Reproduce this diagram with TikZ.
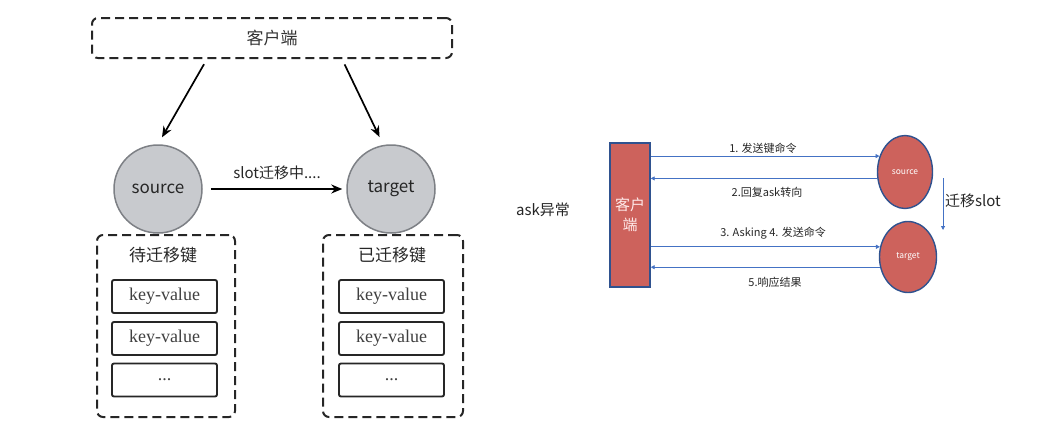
\documentclass[tikz,border=0pt]{standalone}
\usepackage{fontspec}
\setmainfont{Noto Sans CJK SC}
\newfontfamily\kvfont{Liberation Serif}
\usetikzlibrary{arrows.meta,shapes.geometric}
\definecolor{nodegray}{RGB}{200,202,206}
\definecolor{rimgray}{RGB}{125,128,133}
\definecolor{boxred}{RGB}{205,98,92}
\definecolor{rimblue}{RGB}{47,82,143}
\definecolor{flowblue}{RGB}{68,114,196}
\begin{document}
\begin{tikzpicture}[x=1pt,y=-1pt,
    sketch/.style={draw=black!85,line width=2pt,dash pattern=on 9pt off 5pt,rounded corners=6pt},
    kvbox/.style={draw=black!85,line width=1.9pt,rounded corners=2pt,minimum width=105pt,minimum height=33pt,font=\kvfont\fontsize{18}{18}\selectfont,text=black!75},
    server/.style={circle,draw=rimgray,line width=1.5pt,fill=nodegray,minimum size=88pt,font=\fontsize{17}{17}\selectfont,text=black!85},
    flow/.style={flowblue,line width=0.9pt,-{Triangle[length=4pt,width=4pt]}},
    redis/.style={ellipse,draw=rimblue,line width=1.4pt,fill=boxred,text=white,font=\fontsize{8.5}{8.5}\selectfont},
    lbl/.style={font=\fontsize{11}{11}\selectfont,text=black!85}]

  \useasboundingbox (0,0) rectangle (1048,440);

  % left: slot being migrated
  \node[sketch,minimum width=360pt,minimum height=40pt,font=\fontsize{17}{17}\selectfont,text=black!80] (cl) at (272,38) {客户端};

  \node[server] (src) at (158,189) {source};
  \node[server] (tgt) at (391,189) {target};

  \draw[line width=1.7pt,-{Stealth[length=11pt,width=9pt]},shorten <=6pt,shorten >=8pt] ([xshift=-65pt]cl.south) -- (src.north);
  \draw[line width=1.7pt,-{Stealth[length=11pt,width=9pt]},shorten <=6pt,shorten >=8pt] ([xshift=70pt]cl.south) -- ([xshift=-8pt]tgt.north);
  \draw[line width=1.7pt,-{Stealth[length=11pt,width=9pt]},shorten <=8pt,shorten >=4pt] (src.east) -- (tgt.west);
  \node[font=\fontsize{15}{15}\selectfont,text=black!85] (mig) at (277,173) {slot迁移中....};

  \node[sketch,minimum width=138pt,minimum height=182pt] (pend) at (166,326) {};
  \node[font=\fontsize{17}{17}\selectfont,text=black!85] (pendt) at (163,255) {待迁移键};
  \node[kvbox] (p1) at (164.5,296.5) {key-value};
  \node[kvbox] (p2) at (164.5,338.5) {key-value};
  \node[kvbox] (p3) at (164.5,380) {...};

  \node[sketch,minimum width=140pt,minimum height=182pt] (done) at (393,326) {};
  \node[font=\fontsize{17}{17}\selectfont,text=black!85] (donet) at (392,255) {已迁移键};
  \node[kvbox] (d1) at (391.5,296.5) {key-value};
  \node[kvbox] (d2) at (391.5,338.5) {key-value};
  \node[kvbox] (d3) at (391.5,380) {...};

  % right: ask redirect
  \node[font=\fontsize{15}{15}\selectfont,text=black!85] (ask) at (543,210) {ask异常};
  \node[draw=rimblue,line width=1.4pt,fill=boxred,minimum width=40pt,minimum height=144pt,text=white!92!red,
        align=center,font=\fontsize{15}{20}\selectfont] (cli) at (630,215) {客户\\端};
  \node[redis,minimum width=55pt,minimum height=73pt] (rsrc) at (905,172) {source};
  \node[redis,minimum width=57pt,minimum height=71pt] (rtgt) at (908,257) {target};

  \draw[flow] (cli.east |- rsrc.148) -- (rsrc.148);
  \draw[flow] (rsrc.193) -- (cli.east |- rsrc.193);
  \draw[flow] (cli.east |- rtgt.160) -- (rtgt.160);
  \draw[flow] (rtgt.200) -- (cli.east |- rtgt.200);

  \node[lbl] (l1) at (763,148) {1. 发送键命令};
  \node[lbl] (l2) at (767,192) {2.回复ask转向};
  \node[lbl] (l3) at (773,233) {3. Asking 4. 发送命令};
  \node[lbl] (l5) at (775,282) {5.响应结果};

  \coordinate (mv1) at (943,178);
  \coordinate (mv2) at (943,230);
  \draw[flow] (mv1) -- (mv2);
  \node[font=\fontsize{15}{15}\selectfont,text=black!85] (mvl) at (973,201) {迁移slot};
\end{tikzpicture}
\end{document}
